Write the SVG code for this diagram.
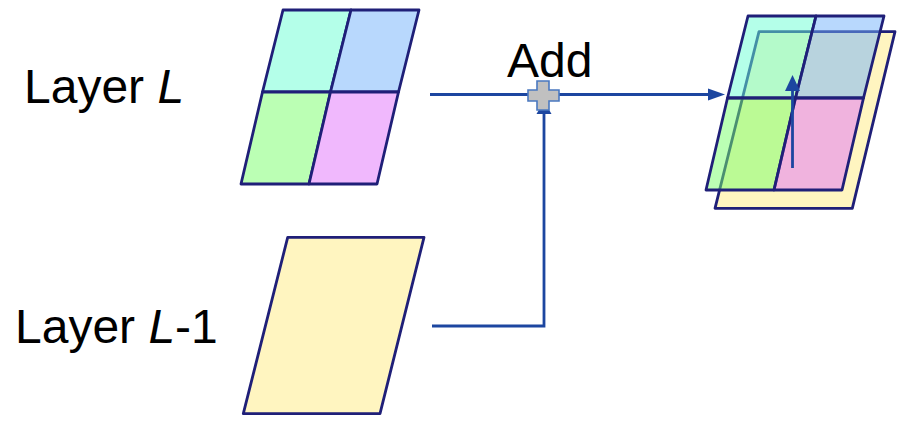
<svg xmlns="http://www.w3.org/2000/svg" width="905" height="426" viewBox="0 0 905 426">
  <style>
    .lbl { font-family: "Liberation Sans", Arial, sans-serif; font-size: 48px; fill: #000; }
    .cell { stroke: #1f1f78; stroke-width: 2.8; stroke-linejoin: round; }
    .sheet { fill: #fff5c0; stroke: #1f1f78; stroke-width: 2.8; stroke-linejoin: round; }
    .cyan { fill: #b4ffe9; }
    .blue { fill: #b8d8fd; }
    .green { fill: #bbffb4; }
    .pink { fill: #f0b8fd; }
    .t-cyan { fill: #69ffd3; fill-opacity: 0.5; }
    .t-blue { fill: #71b1fb; fill-opacity: 0.5; }
    .t-green { fill: #77ff69; fill-opacity: 0.5; }
    .t-pink { fill: #e171fb; fill-opacity: 0.5; }
    .wire { fill: none; stroke: #1c46a0; stroke-width: 2.8; }
    .head { fill: #1c46a0; }
  </style>

  <!-- labels -->
  <g id="label-layer-l">
    <text class="lbl" x="24" y="103" font-size="49">Layer <tspan font-style="italic">L</tspan></text>
  </g>
  <g id="label-layer-l-1">
    <text class="lbl" x="15" y="343">Layer <tspan font-style="italic">L</tspan>-1</text>
  </g>
  <g id="label-add">
    <text class="lbl" x="507" y="77" font-size="49">Add</text>
  </g>

  <!-- layer L: 2x2 feature grid -->
  <g id="layer-l">
    <polygon class="cell cyan" points="283,10 351,10 330.5,92 262.5,92"/>
    <polygon class="cell blue" points="351,10 419,10 398.5,92 330.5,92"/>
    <polygon class="cell green" points="262.5,92 330.5,92 309,184 241,184"/>
    <polygon class="cell pink" points="330.5,92 398.5,92 377,184 309,184"/>
  </g>

  <!-- layer L-1: single sheet -->
  <g id="layer-l-1">
    <polygon class="sheet" points="287.7,237.3 424,237.3 380,413.7 243.3,413.7"/>
  </g>

  <!-- result: sheet with translucent grid laid over it -->
  <g id="result">
    <polygon class="sheet" points="759,31.7 895,31.7 852.3,208.3 715,208.3"/>
    <g transform="translate(465,6)">
      <polygon class="cell t-cyan" points="283,10 351,10 330.5,92 262.5,92"/>
      <polygon class="cell t-blue" points="351,10 419,10 398.5,92 330.5,92"/>
      <polygon class="cell t-green" points="262.5,92 330.5,92 309,184 241,184"/>
      <polygon class="cell t-pink" points="330.5,92 398.5,92 377,184 309,184"/>
    </g>
    <line class="wire" x1="792.5" y1="168" x2="792.5" y2="88" stroke-width="3"/>
    <polygon class="head" points="792.5,75 800,91 785,91"/>
  </g>

  <!-- connectors -->
  <g id="connectors">
    <line class="wire" x1="430" y1="94.5" x2="710" y2="94.5"/>
    <polygon class="head" points="725,94.5 708,88.5 708,100.5"/>
    <polyline class="wire" points="432,326 544,326 544,110"/>
    <polygon class="head" points="544,101 551.5,114 536.5,114"/>
  </g>

  <!-- add junction -->
  <g id="add-junction">
    <path d="M537,81 H549 V90 H559 V101 H549 V110 H537 V101 H528 V90 H537 Z" fill="#c0c0c0" stroke="#4a78c0" stroke-width="1.6"/>
  </g>
</svg>
